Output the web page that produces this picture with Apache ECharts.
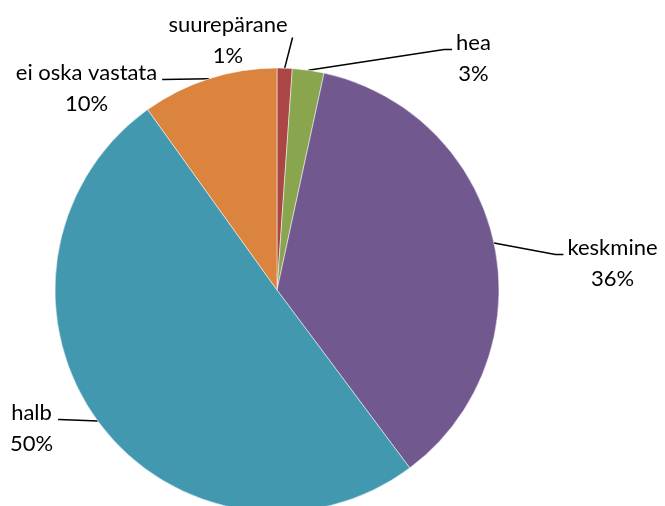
<!DOCTYPE html>
<html>
<head>
<meta charset="utf-8">
<script src="https://cdn.jsdelivr.net/npm/echarts@6/dist/echarts.min.js"></script>
<style>
    html, body { margin: 0; padding: 0; background: #fff; }
    #pie-chart { width: 665px; height: 506px; }
</style>
</head>
<body>
<div id="pie-chart"></div>
<script>
    // hinnangud, alates kella 12-st päripäeva
    var categories = ['suurepärane', 'hea', 'keskmine', 'halb', 'ei oska vastata'];
    var values = [1.1, 2.3, 36.4, 50.3, 9.9];
    var percentLabels = ['1%', '3%', '36%', '50%', '10%'];
    var colors = ['#AA4643', '#89A54E', '#71588F', '#4198AF', '#DB843D'];

    // sildi keskpunkt (x) ja ülaserv (y), ning kummal pool joon on
    var labelPlace = [
        { x: 228, y: 9.5, side: 'top' },
        { x: 473.5, y: 27.5, side: 'right' },
        { x: 612.5, y: 232.5, side: 'right' },
        { x: 31.5, y: 397.5, side: 'left' },
        { x: 86.5, y: 57.5, side: 'left' }
    ];

    var myChart = echarts.init(document.getElementById('pie-chart'));
    var pieData = categories.map(function (name, i) {
        return { name: name, value: values[i], itemStyle: { color: colors[i] } };
    });

    myChart.setOption({
        animation: false,
        series: [{
            type: 'pie',
            center: [277, 290],
            radius: 222,
            startAngle: 90,
            clockwise: true,
            data: pieData,
            itemStyle: { borderColor: '#fff', borderWidth: 0.5 },
            label: {
                position: 'outside',
                formatter: function (p) {
                    return '{t|' + p.name + '}\n{t|' + percentLabels[p.dataIndex] + '}';
                },
                rich: {
                    t: {
                        fontFamily: 'Lato',
                        fontSize: 22,
                        lineHeight: 31,
                        color: '#000',
                        align: 'center'
                    }
                }
            },
            labelLine: {
                show: true,
                length: 20,
                length2: 15,
                smooth: false,
                lineStyle: { color: '#000', width: 1.5 }
            },
            labelLayout: function (params) {
                var pl = labelPlace[params.dataIndex];
                var w = params.labelRect.width;
                var start = params.labelLinePoints[0];
                var end, mid;
                if (pl.side === 'right') {
                    end = [pl.x - w / 2 - 4, pl.y + 22];
                    mid = [end[0] - 8, end[1]];
                } else if (pl.side === 'left') {
                    end = [pl.x + w / 2 + 5, pl.y + 22];
                    mid = [end[0] + 1, end[1]];
                } else {
                    end = [pl.x + w / 2 + 5, pl.y + 28];
                    mid = end;
                }
                return {
                    x: pl.x,
                    y: pl.y,
                    align: 'center',
                    verticalAlign: 'top',
                    labelLinePoints: [start, mid, end]
                };
            },
            emphasis: { disabled: true }
        }]
    });
</script>
</body>
</html>
